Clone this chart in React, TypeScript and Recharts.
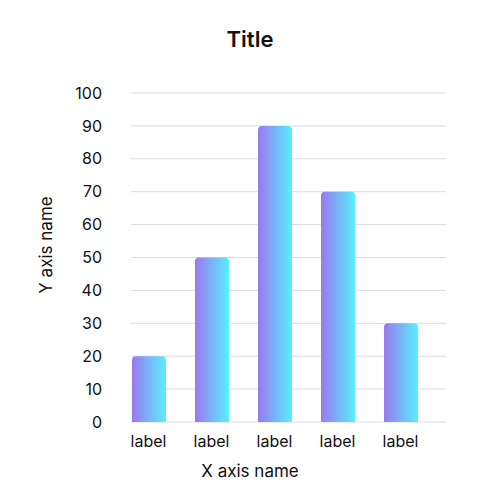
import { Bar, BarChart, CartesianGrid, Label, XAxis, YAxis } from 'recharts'

const categories = ['label', 'label', 'label', 'label', 'label']
const values = [20, 50, 90, 70, 30]
const yTicks = [0, 10, 20, 30, 40, 50, 60, 70, 80, 90, 100]

const FONT = 'Inter, "Noto Sans", sans-serif'
const INK = '#111111'

const rows = values.map((v, i) => ({ idx: i, value: v }))

export default function App() {
  return (
    <div style={{ position: 'absolute', left: 0, top: 0, width: 500, height: 500, background: '#fff' }}>
      <BarChart
        width={500}
        height={500}
        data={rows}
        margin={{ top: 93, right: 54, bottom: 48, left: 31 }}
        style={{ fontFamily: FONT }}
      >
        <text x={250} y={47} textAnchor="middle" fontSize={22} fontWeight={600} fill={INK} fontFamily={FONT}>
          Title
        </text>
        <defs>
          <linearGradient id="barGrad" x1="0" y1="0" x2="1" y2="0">
            <stop offset="0%" stopColor="#9a78ee" />
            <stop offset="100%" stopColor="#57f0ff" />
          </linearGradient>
        </defs>
        <CartesianGrid vertical={false} stroke="#dcdcdc" strokeWidth={1} />
        <XAxis
          dataKey="idx"
          type="number"
          domain={[-0.2778, 4.722]}
          ticks={[0, 1, 2, 3, 4]}
          tickFormatter={(i: number) => categories[i] ?? ''}
          height={30}
          axisLine={false}
          tickLine={false}
          tickSize={0}
          tickMargin={14}
          tick={{ fontSize: 16, fill: INK, fontFamily: FONT }}
          allowDataOverflow
        >
          <Label
            content={() => (
              <text x={250} y={477} textAnchor="middle" fontSize={17} fill={INK} fontFamily={FONT}>
                X axis name
              </text>
            )}
          />
        </XAxis>
        <YAxis
          domain={[0, 100]}
          ticks={yTicks}
          width={100}
          axisLine={false}
          tickLine={false}
          tickSize={0}
          tickMargin={29}
          tick={{ fontSize: 16, fill: INK, fontFamily: FONT }}
        >
          <Label
            content={() => (
              <text
                x={52}
                y={245}
                transform="rotate(-90 52 245)"
                textAnchor="middle"
                fontSize={17}
                fill={INK}
                fontFamily={FONT}
              >
                Y axis name
              </text>
            )}
          />
        </YAxis>
        <Bar dataKey="value" barSize={34} fill="url(#barGrad)" radius={[4, 4, 0, 0]} isAnimationActive={false} />
      </BarChart>
    </div>
  )
}
